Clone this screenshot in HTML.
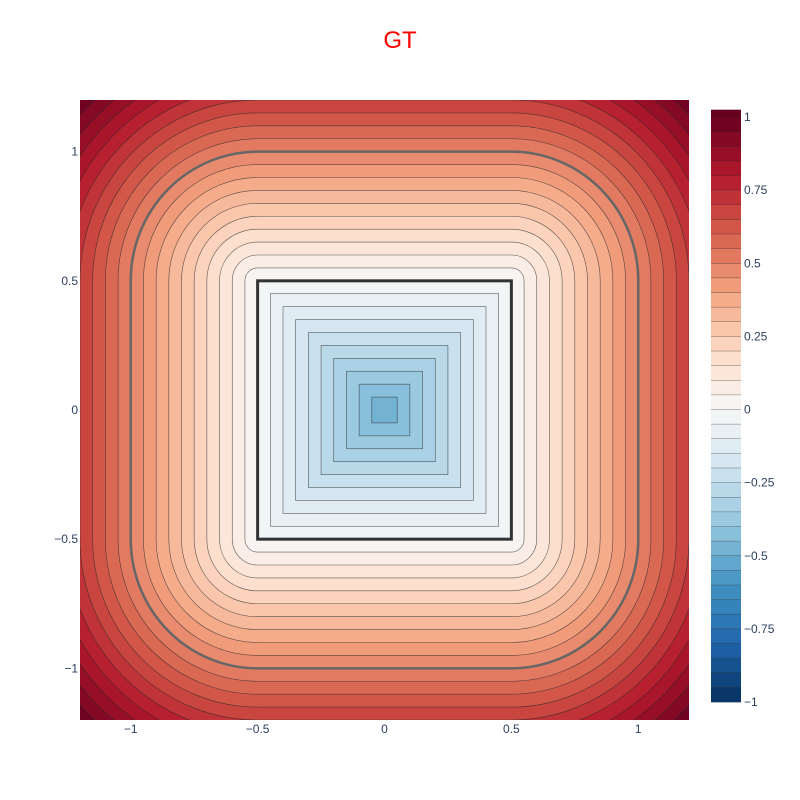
<!DOCTYPE html>
<html><head><meta charset="utf-8"><style>
body{margin:0;background:#fff;}
svg{display:block;font-family:"Liberation Sans",sans-serif;}
</style></head><body>
<svg id="chart" width="800" height="800" xmlns="http://www.w3.org/2000/svg">
<defs><clipPath id="plotclip"><rect x="80" y="100" width="609" height="620"/></clipPath></defs>
<text x="400" y="48" text-anchor="middle" font-size="24" fill="#ff0000">GT</text>
<g id="plot" clip-path="url(#plotclip)"></g>
<g id="overlay" clip-path="url(#plotclip)"></g>
<g id="xticks"></g>
<g id="yticks"></g>
<g id="cbar"></g>
</svg>
<script>
const levels = [];
for (let i = -9; i <= 19; i++) levels.push(Math.round(i * 5) / 100);
const highlightLevels = [0, 0.5];
const highlightColors = ["#333333", "#666666"];
const highlightWidths = [3, 2.5];
const boxHalfSize = 0.5;
const xTicks = [-1, -0.5, 0, 0.5, 1];
const yTicks = [-1, -0.5, 0, 0.5, 1];
const cbTicks = [1, 0.75, 0.5, 0.25, 0, -0.25, -0.5, -0.75, -1];
const palette = ["#67001f","#b2182b","#d6604d","#f4a582","#fddbc7","#f7f7f7","#d1e5f0","#92c5de","#4393c3","#2166ac","#053061"];

const NS = "http://www.w3.org/2000/svg";
const sx = x => 80 + (x + 1.2) / 2.4 * 609;
const sy = y => 100 + (1.2 - y) / 2.4 * 620;
const cy = v => 117 + (1 - v) / 2 * 585;
function hex(h){return [1,3,5].map(i=>parseInt(h.substr(i,2),16));}
function color(v){
  let t = (1 - v) / 2 * (palette.length - 1);
  t = Math.max(0, Math.min(palette.length - 1, t));
  const i = Math.min(Math.floor(t), palette.length - 2), f = t - i;
  const a = hex(palette[i]), b = hex(palette[i+1]);
  return "rgb(" + a.map((c,k)=>Math.round(c + (b[k]-c)*f)).join(",") + ")";
}
function fmt(v){ return (v < 0 ? "\u2212" : "") + Math.abs(v); }
function mk(tag, attrs, parent){
  const e = document.createElementNS(NS, tag);
  for (const k in attrs) e.setAttribute(k, attrs[k]);
  parent.appendChild(e); return e;
}
function shape(L, parent){
  const w = boxHalfSize + L, r = Math.max(L, 0);
  return mk("rect", {x: sx(-w), y: sy(w), width: sx(w) - sx(-w), height: sy(-w) - sy(w),
    rx: r * 609 / 2.4, ry: r * 620 / 2.4}, parent);
}
const plot = document.getElementById("plot");
const bg = mk("rect", {x:80, y:100, width:609, height:620, fill: color(levels[levels.length-1] + 0.025)}, plot);


for (let i = levels.length - 1; i >= 0; i--) {
  const L = levels[i];
  const el = shape(L, plot);
  el.setAttribute("fill", color(L - 0.025));
  el.setAttribute("stroke", "rgba(40,40,40,0.75)");
  el.setAttribute("stroke-width", "0.6");
  
  
}
const overlay = document.getElementById("overlay");
highlightLevels.forEach((L, i) => {
  const el = shape(L, overlay);
  el.setAttribute("fill", "none");
  el.setAttribute("stroke", highlightColors[i]);
  el.setAttribute("stroke-width", highlightWidths[i]);
  
  
});
const xg = document.getElementById("xticks");
xTicks.forEach(v => {
  const t = mk("text", {x: sx(v), y: 733, "text-anchor": "middle", "font-size": 12, fill: "#2a3f5f"}, xg);
  t.textContent = fmt(v);
  
  
});
const yg = document.getElementById("yticks");
yTicks.forEach(v => {
  const t = mk("text", {x: 78, y: sy(v) + 4, "text-anchor": "end", "font-size": 12, fill: "#2a3f5f"}, yg);
  t.textContent = fmt(v);
  
  
});
const cb = document.getElementById("cbar");
for (let k = -20; k < 21; k++) {
  const lo = Math.max(k * 0.05 - 0.025, -1.025), hi = Math.min(k * 0.05 + 0.025, 1.025);
  const lo2 = Math.max(k*0.05, -1.025), hi2 = Math.min(k*0.05+0.05, 1.025);
  if (lo2 >= hi2) continue;
  const r = mk("rect", {x:711, y: cy(hi2), width:30, height: cy(lo2) - cy(hi2) + 0.3, fill: color((lo2+hi2)/2)}, cb);
  
  
  if (k > -21 && k*0.05 > -1.025) {
    const ln = mk("line", {x1:711, x2:741, y1: cy(lo2), y2: cy(lo2), stroke:"rgba(40,40,40,0.6)", "stroke-width":0.6}, cb);
    
    
  }
}
cbTicks.forEach(v => {
  const t = mk("text", {x: 744, y: cy(v) + 4, "font-size": 12, fill: "#2a3f5f"}, cb);
  t.textContent = fmt(v);
  
  
});
</script>
</body></html>
